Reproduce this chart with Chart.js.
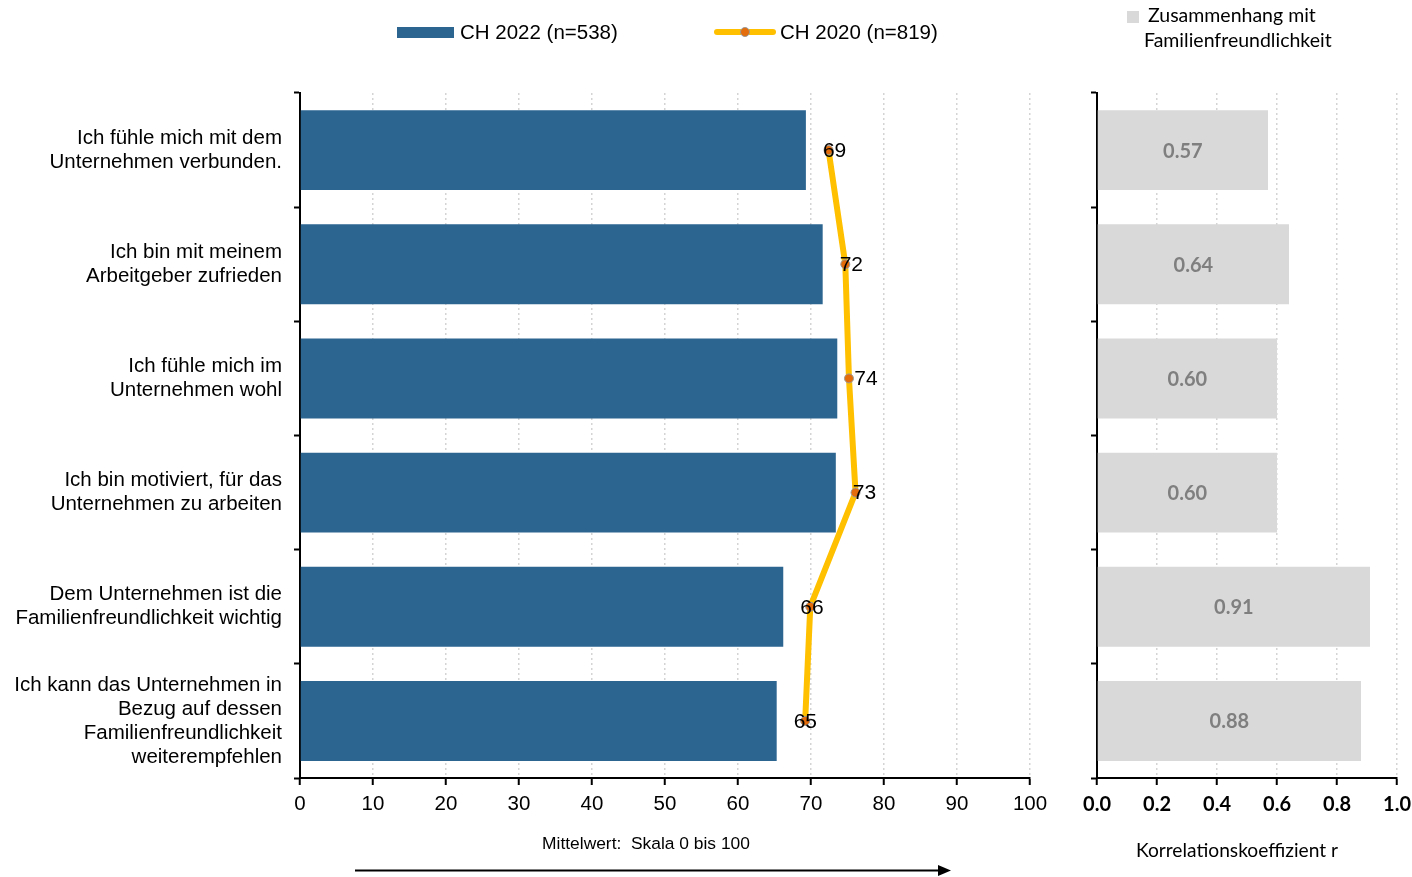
<!DOCTYPE html>
<html lang="de">
<head>
<meta charset="UTF-8">
<title>Verbundenheit und Familienfreundlichkeit</title>
<script src="https://cdn.jsdelivr.net/npm/chart.js"></script>
<style>
    body {
        margin: 0;
        width: 1412px;
        height: 877px;
        background: #fff;
        position: relative;
        overflow: hidden;
        font-family: 'Liberation Sans', Arial, sans-serif;
    }
    .box { position: absolute; top: 0; height: 877px; }
    #leftBox { left: 0; width: 1060px; }
    #rightBox { left: 1060px; width: 359px; }
    .legend {
        position: absolute;
        font-size: 20.5px;
        color: #000;
        white-space: nowrap;
        display: flex;
        align-items: center;
    }
    .swatch-bar { display: inline-block; width: 57px; height: 11px; background: #2B6590; margin-right: 6px; }
    .swatch-line { position: relative; display: inline-block; width: 62px; height: 6px; border-radius: 3px; background: #FFC000; margin-right: 4px; }
    .swatch-line span { position: absolute; left: 26px; top: -2px; width: 10px; height: 10px; border-radius: 50%; background: #E46C0A; box-sizing: border-box; border: 1px solid #999; }
    .legend-r {
        position: absolute;
        font-family: Lato, 'Open Sans', sans-serif;
        font-size: 19.5px;
        color: #000;
        white-space: nowrap;
    }
    .legend-r i { display: inline-block; width: 12px; height: 12px; background: #D9D9D9; margin-right: 9px; vertical-align: -1px; }
    .axis-title { position: absolute; white-space: nowrap; transform: translateX(-50%); }
</style>
</head>
<body>
<div class="box" id="leftBox"><canvas id="leftChart"></canvas></div>
<div class="box" id="rightBox"><canvas id="rightChart"></canvas></div>

<div class="legend" style="left:397px; top:20px;"><span class="swatch-bar"></span>CH 2022 (n=538)</div>
<div class="legend" style="left:714px; top:20px;"><span class="swatch-line"><span></span></span>CH 2020 (n=819)</div>
<div class="legend-r" style="left:1127px; top:3px;"><i></i>Zusammenhang mit</div>
<div class="legend-r" style="left:1144px; top:28px;">Familienfreundlichkeit</div>

<div class="axis-title" style="left:646px; top:833px; font-size:17.4px;">Mittelwert:&nbsp; Skala 0 bis 100</div>
<div class="axis-title" style="left:1237px; top:838px; font-size:19.2px; font-family: Lato, 'Open Sans', sans-serif;">Korrelationskoeffizient r</div>
<svg style="position:absolute; left:0; top:0;" width="1412" height="877">
    <line x1="355" y1="870.5" x2="940" y2="870.5" stroke="#000" stroke-width="2"/>
    <polygon points="938,865 951,870.5 938,876" fill="#000"/>
</svg>

<script>
    const categories = [
        ['Ich fühle mich mit dem', 'Unternehmen verbunden.'],
        ['Ich bin mit meinem', 'Arbeitgeber zufrieden'],
        ['Ich fühle mich im', 'Unternehmen wohl'],
        ['Ich bin motiviert, für das', 'Unternehmen zu arbeiten'],
        ['Dem Unternehmen ist die', 'Familienfreundlichkeit wichtig'],
        ['Ich kann das Unternehmen in', 'Bezug auf dessen', 'Familienfreundlichkeit', 'weiterempfehlen']
    ];
    const ch2022 = [69.3, 71.6, 73.6, 73.4, 66.2, 65.3];
    const ch2020 = [72.4, 74.7, 75.2, 76.1, 69.9, 69.2];
    const correlation = [0.57, 0.64, 0.60, 0.60, 0.91, 0.88];
    const meanTicks = [0, 10, 20, 30, 40, 50, 60, 70, 80, 90, 100];
    const corrTicks = [0.0, 0.2, 0.4, 0.6, 0.8, 1.0];

    const gridColor = ctx => ctx.tick && ctx.tick.value === 0 ? 'rgba(0,0,0,0)' : '#D4D4D4';

    // value labels for the 2022 bars, placed just right of the bar end
    const barLabels = {
        id: 'barLabels',
        afterDatasetsDraw(chart) {
            const meta = chart.getDatasetMeta(1);
            const ctx = chart.ctx;
            ctx.save();
            ctx.font = '21px "Liberation Sans", Arial, sans-serif';
            ctx.fillStyle = '#000';
            ctx.textAlign = 'left';
            ctx.textBaseline = 'middle';
            meta.data.forEach((bar, i) => {
                ctx.fillText(Math.round(ch2022[i]), bar.x + 17, bar.y + 1);
            });
            ctx.restore();
        }
    };

    const corrLabels = {
        id: 'corrLabels',
        afterDatasetsDraw(chart) {
            const meta = chart.getDatasetMeta(0);
            const ctx = chart.ctx;
            ctx.save();
            ctx.font = 'bold 20px Lato, "Open Sans", sans-serif';
            ctx.fillStyle = '#7F7F7F';
            ctx.textAlign = 'center';
            ctx.textBaseline = 'middle';
            meta.data.forEach((bar, i) => {
                ctx.fillText(correlation[i].toFixed(2), (bar.base + bar.x) / 2, bar.y + 1);
            });
            ctx.restore();
        }
    };

    new Chart(document.getElementById('leftChart'), {
        type: 'bar',
        data: {
            labels: categories,
            datasets: [
                {
                    type: 'line',
                    label: 'CH 2020 (n=819)',
                    data: ch2020,
                    indexAxis: 'y',
                    borderColor: '#FFC000',
                    borderWidth: 6,
                    pointRadius: 4.5,
                    pointBackgroundColor: '#E46C0A',
                    pointBorderColor: '#999',
                    pointBorderWidth: 1,
                    tension: 0,
                    order: 0
                },
                {
                    label: 'CH 2022 (n=538)',
                    data: ch2022,
                    indexAxis: 'y',
                    backgroundColor: '#2B6590',
                    categoryPercentage: 1,
                    barPercentage: 0.7,
                    order: 1
                }
            ]
        },
        options: {
            indexAxis: 'y',
            responsive: true,
            maintainAspectRatio: false,
            animation: false,
            layout: { padding: { top: 93, right: 30, left: 0, bottom: 0 } },
            plugins: { legend: { display: false }, tooltip: { enabled: false } },
            scales: {
                x: {
                    min: 0,
                    max: 100,
                    afterBuildTicks: s => { s.ticks = meanTicks.map(v => ({ value: v })); },
                    afterFit: s => { s.height = 99; },
                    grid: {
                        color: gridColor,
                        tickColor: '#000',
                        tickLength: 7,
                        lineWidth: 1.5,
                        tickWidth: 2
                    },
                    border: { color: '#000', width: 2, dash: [2, 3] },
                    ticks: {
                        color: '#000',
                        padding: 7,
                        font: { family: '"Liberation Sans", Arial, sans-serif', size: 20.5 }
                    }
                },
                y: {
                    afterFit: s => { s.width = 300; },
                    border: { color: '#000', width: 2 },
                    grid: {
                        offset: true,
                        drawOnChartArea: false,
                        tickColor: '#000',
                        tickLength: 6,
                        tickWidth: 2
                    },
                    ticks: {
                        color: '#000',
                        padding: 12,
                        font: { family: '"Liberation Sans", Arial, sans-serif', size: 20.5, lineHeight: 1.17 }
                    }
                }
            }
        },
        plugins: [barLabels]
    });

    new Chart(document.getElementById('rightChart'), {
        type: 'bar',
        data: {
            labels: categories,
            datasets: [{
                label: 'Zusammenhang mit Familienfreundlichkeit',
                data: correlation,
                backgroundColor: '#D9D9D9',
                categoryPercentage: 1,
                barPercentage: 0.7
            }]
        },
        options: {
            indexAxis: 'y',
            responsive: true,
            maintainAspectRatio: false,
            animation: false,
            layout: { padding: { top: 93, right: 15, left: 0, bottom: 0 } },
            plugins: { legend: { display: false }, tooltip: { enabled: false } },
            scales: {
                x: {
                    min: 0,
                    max: 1,
                    afterBuildTicks: s => { s.ticks = corrTicks.map(v => ({ value: v })); },
                    afterFit: s => { s.height = 99; },
                    grid: {
                        color: gridColor,
                        tickColor: '#000',
                        tickLength: 7,
                        lineWidth: 1.5,
                        tickWidth: 2
                    },
                    border: { color: '#000', width: 2, dash: [2, 3] },
                    ticks: {
                        color: '#000',
                        padding: 8,
                        callback: v => Number(v).toFixed(1),
                        font: { family: 'Lato, "Open Sans", sans-serif', size: 20, weight: 'bold' }
                    }
                },
                y: {
                    afterFit: s => { s.width = 37; },
                    border: { color: '#000', width: 2 },
                    grid: {
                        offset: true,
                        drawOnChartArea: false,
                        tickColor: '#000',
                        tickLength: 6,
                        tickWidth: 2
                    },
                    ticks: { display: false }
                }
            }
        },
        plugins: [corrLabels]
    });
</script>
</body>
</html>
